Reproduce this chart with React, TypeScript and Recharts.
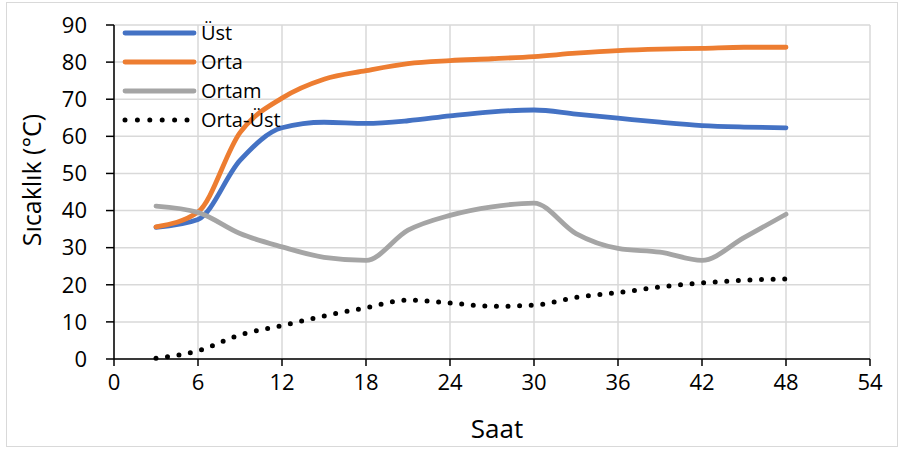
import { CartesianGrid, Line, LineChart, XAxis, YAxis } from 'recharts';

const saat = [3, 6, 9, 12, 15, 18, 21, 24, 27, 30, 33, 36, 39, 42, 45, 48];
const ust = [35.5, 37.6, 53.5, 62.3, 63.8, 63.5, 64.2, 65.5, 66.6, 67.1, 66.0, 64.9, 63.8, 62.9, 62.5, 62.3];
const orta = [35.6, 39.6, 61.0, 70.3, 75.4, 77.7, 79.6, 80.4, 80.9, 81.5, 82.4, 83.1, 83.5, 83.7, 84.0, 84.0];
const ortam = [41.2, 39.5, 33.8, 30.2, 27.4, 26.6, 34.7, 38.7, 41.0, 42.0, 33.8, 29.8, 28.8, 26.6, 32.7, 39.0];
const ortaUst = [0.2, 2.2, 6.5, 9.0, 11.6, 13.8, 15.9, 15.1, 14.2, 14.5, 16.6, 17.9, 19.4, 20.5, 21.2, 21.6];

const seriesNames = ['Üst', 'Orta', 'Ortam', 'Orta-Üst'];
const seriesColors = ['#4472C4', '#ED7D31', '#A5A5A5', '#000000'];

const xTicks = [0, 6, 12, 18, 24, 30, 36, 42, 48, 54];
const yTicks = [0, 10, 20, 30, 40, 50, 60, 70, 80, 90];

const data = saat.map((s, i) => ({
  saat: s,
  'Üst': ust[i],
  'Orta': orta[i],
  'Ortam': ortam[i],
  'Orta-Üst': ortaUst[i],
}));

const FONT = '"Open Sans", sans-serif';

// legend drawn on top of the plot, like excel's inset legend
function LegendBox() {
  return (
    <svg width={200} height={120} style={{ position: 'absolute', left: 118, top: 20 }}>
      {seriesNames.map((name, i) => {
        const y = 13 + i * 29;
        const dotted = name === 'Orta-Üst';
        return (
          <g key={name}>
            <line
              x1={7}
              x2={dotted ? 70 : 76}
              y1={y}
              y2={y}
              stroke={seriesColors[i]}
              strokeWidth={dotted ? 5 : 4.8}
              strokeLinecap="round"
              strokeDasharray={dotted ? '0 12.4' : undefined}
            />
            <text x={83} y={y + 7} fontSize={20} fontFamily={FONT} fill="#000">
              {name}
            </text>
          </g>
        );
      })}
    </svg>
  );
}

export default function App() {
  return (
    <div style={{ position: 'absolute', left: 0, top: 0, width: 905, height: 450, background: '#fff' }}>
      <div
        style={{
          position: 'absolute',
          left: 6,
          top: 2,
          width: 890,
          height: 443,
          border: '1.5px solid #d9d9d9',
        }}
      />
      <LineChart width={905} height={450} data={data} margin={{ top: 25, right: 35, left: 14, bottom: 41 }}>
        <CartesianGrid stroke="#d9d9d9" strokeWidth={1.5} />
        <XAxis
          dataKey="saat"
          type="number"
          domain={[0, 54]}
          ticks={xTicks}
          height={50}
          stroke="#000"
          strokeWidth={1.5}
          tickSize={7}
          tickMargin={8}
          tick={{ fill: '#000', fontSize: 22, fontFamily: FONT }}
          label={{
            content: (p: any) => {
              const { x, y, width } = p.viewBox;
              return (
                <text x={x + width / 2 + 5} y={y + 79} textAnchor="middle" fontSize={26} fontFamily={FONT} fill="#000">
                  Saat
                </text>
              );
            },
          }}
        />
        <YAxis
          type="number"
          domain={[0, 90]}
          ticks={yTicks}
          width={100}
          stroke="#000"
          strokeWidth={1.5}
          tickSize={8}
          tickMargin={19}
          tick={{ fill: '#000', fontSize: 22, fontFamily: FONT }}
          label={{
            content: (p: any) => {
              const { y, height } = p.viewBox;
              const cx = 31;
              const cy = y + height / 2 - 12;
              return (
                <text
                  x={cx}
                  y={cy}
                  transform={`rotate(-90 ${cx} ${cy})`}
                  textAnchor="middle"
                  dominantBaseline="central"
                  fontSize={25}
                  fontFamily={FONT}
                  fill="#000"
                >
                  Sıcaklık (°C)
                </text>
              );
            },
          }}
        />
        {seriesNames.map((name, i) => (
          <Line
            key={name}
            type="monotone"
            dataKey={name}
            stroke={seriesColors[i]}
            strokeWidth={name === 'Orta-Üst' ? 5 : 4.8}
            strokeDasharray={name === 'Orta-Üst' ? '0 11.6' : undefined}
            strokeLinecap="round"
            dot={false}
            isAnimationActive={false}
          />
        ))}
      </LineChart>
      <LegendBox />
    </div>
  );
}
